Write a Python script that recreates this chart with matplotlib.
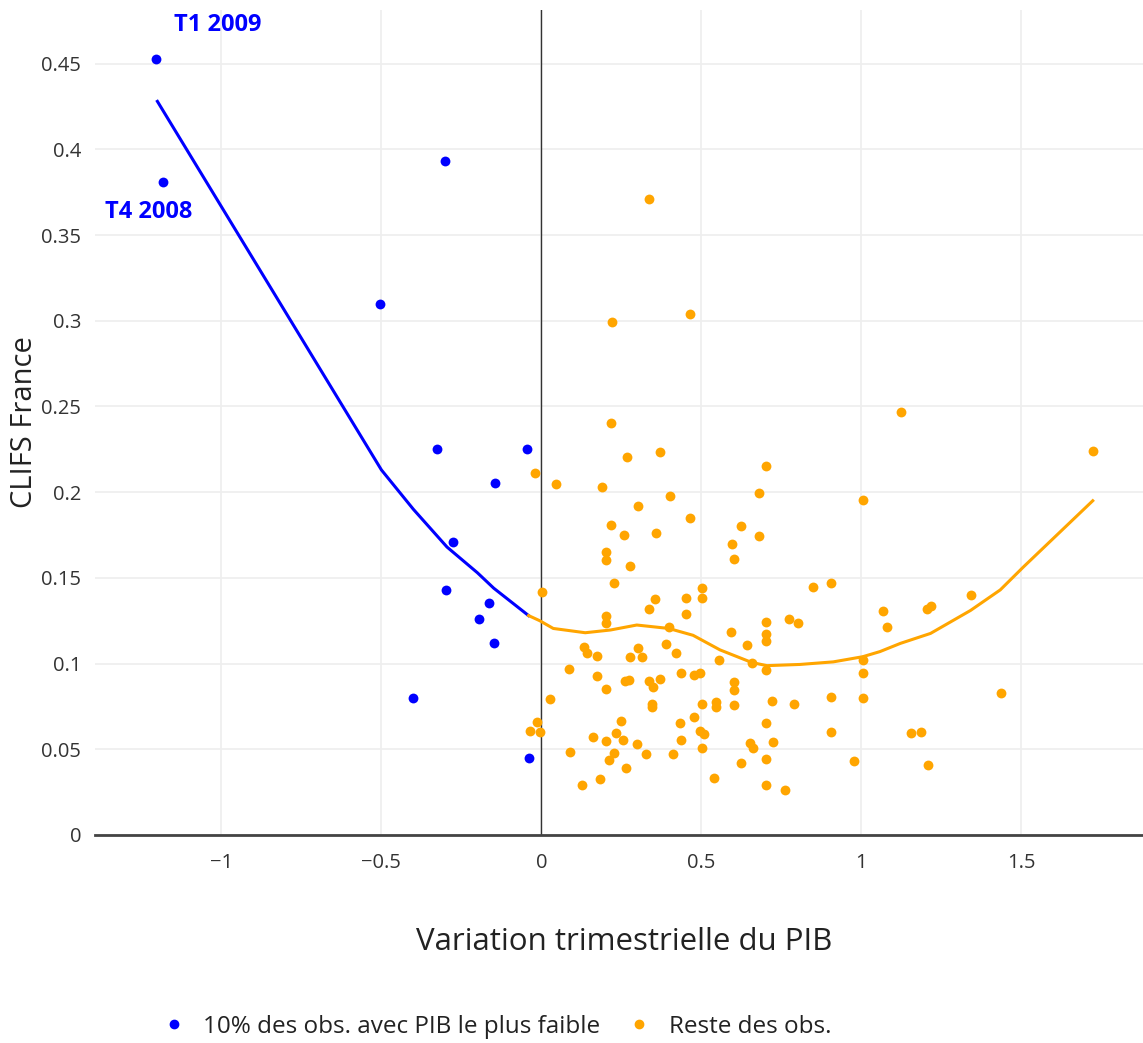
import numpy as np
import matplotlib
matplotlib.use("Agg")
import matplotlib.pyplot as plt
from matplotlib.lines import Line2D

plt.rcParams['font.family'] = ['Open Sans', 'DejaVu Sans']
plt.rcParams['axes.unicode_minus'] = True

# 10% lowest GDP observations (blue)
low_x = [-1.203, -1.181, -0.300, -0.503, -0.325, -0.044, -0.145, -0.277,
         -0.298, -0.163, -0.195, -0.149, -0.400, -0.040]
low_y = [0.453, 0.381, 0.393, 0.310, 0.225, 0.225, 0.2056, 0.1708,
         0.1428, 0.1355, 0.1262, 0.1123, 0.080, 0.045]

# remaining observations (orange)
rest_x = [
    0.218, 0.267, 0.372, -0.021, 0.046, 0.190, 0.402, 0.301, 0.465, 0.216,
    0.259, 0.358, 0.202, 0.202, 0.278, 0.228, 0.001, 0.502, 0.502, 0.356,
    0.452, 0.337,
    0.452, 0.202, 0.202, 0.398, 0.388, 0.421, 0.134, 0.141, 0.174, 0.301,
    0.278, 0.313, 0.085, 0.174, 0.202, 0.262, 0.273, 0.337, 0.348, 0.372,
    0.436, 0.476, 0.495, 0.028, 0.345, 0.345, 0.502, -0.015, -0.036, -0.003,
    0.250, 0.478, 0.434, 0.160, 0.233, 0.202, 0.255, 0.299, 0.435, 0.495,
    0.507, 0.502, 0.088, 0.226, 0.212, 0.326, 0.412, 0.263, 0.182, 0.127,
    0.538,
    0.703, 0.773, 0.803, 0.594, 0.703, 0.703, 0.641, 0.556, 0.658, 0.703,
    1.004, 1.004, 0.603, 0.603, 0.547, 0.547, 0.603, 0.720, 0.788, 0.904,
    1.004, 0.703, 0.904, 0.651, 0.662, 0.725, 0.703, 0.623, 0.976, 0.702,
    0.761,
    0.703, 0.679, 1.004, 0.623, 0.679, 0.596, 0.602, 0.848, 0.904,
    1.124, 1.724, 1.067, 1.080, 1.205, 1.218, 1.341, 1.435, 1.154, 1.185,
    1.209,
    0.337, 0.220, 0.463,
]
rest_y = [
    0.2404, 0.2205, 0.2236, 0.2114, 0.2045, 0.203, 0.198, 0.192, 0.185, 0.1811,
    0.1752, 0.1763, 0.165, 0.1605, 0.1567, 0.1471, 0.1418, 0.1443, 0.1385, 0.1377,
    0.1385, 0.132,
    0.1289, 0.1277, 0.1234, 0.1211, 0.1113, 0.1059, 0.1094, 0.1059, 0.1047, 0.1092,
    0.1041, 0.1036, 0.0971, 0.0927, 0.0853, 0.0898, 0.0904, 0.0898, 0.0866, 0.0913,
    0.0946, 0.0933, 0.0946, 0.0793, 0.0767, 0.0747, 0.0764, 0.066, 0.0607, 0.0601,
    0.0665, 0.069, 0.0651, 0.0574, 0.0593, 0.055, 0.0554, 0.0531, 0.0554, 0.0607,
    0.0587, 0.0509, 0.0484, 0.048, 0.0438, 0.0474, 0.047, 0.0393, 0.0327, 0.0289,
    0.033,
    0.1243, 0.1262, 0.1236, 0.1186, 0.1172, 0.1129, 0.111, 0.102, 0.1006, 0.096,
    0.102, 0.0946, 0.0894, 0.0845, 0.0777, 0.0744, 0.0761, 0.0782, 0.0764, 0.0808,
    0.080, 0.0651, 0.0602, 0.0537, 0.0505, 0.0542, 0.0445, 0.0421, 0.0429, 0.0293,
    0.0262,
    0.215, 0.1997, 0.1954, 0.1803, 0.1745, 0.1699, 0.1613, 0.1448, 0.1473,
    0.247, 0.224, 0.1308, 0.1211, 0.1316, 0.1337, 0.1401, 0.0831, 0.0596, 0.0598,
    0.0408,
    0.3708, 0.2993, 0.3041,
]

# smoothed curves
low_fit_x = [-1.200, -0.500, -0.400, -0.295, -0.200, -0.149, -0.040]
low_fit_y = [0.428, 0.213, 0.190, 0.168, 0.153, 0.144, 0.128]

rest_fit_x = [-0.040, -0.005, 0.037, 0.137, 0.216, 0.298, 0.398, 0.474, 0.558,
              0.658, 0.705, 0.808, 0.912, 1.004, 1.058, 1.122, 1.216, 1.341,
              1.434, 1.507, 1.723]
rest_fit_y = [0.128, 0.125, 0.1205, 0.118, 0.1196, 0.1225, 0.1205, 0.1165, 0.108,
              0.1006, 0.0988, 0.0995, 0.101, 0.104, 0.107, 0.1118, 0.1176, 0.131,
              0.143, 0.1565, 0.195]

x_ticks = [-1, -0.5, 0, 0.5, 1, 1.5]
x_tick_labels = ['\u22121', '\u22120.5', '0', '0.5', '1', '1.5']
y_ticks = [0, 0.05, 0.1, 0.15, 0.2, 0.25, 0.3, 0.35, 0.4, 0.45]
y_tick_labels = ['0', '0.05', '0.1', '0.15', '0.2', '0.25', '0.3', '0.35', '0.4', '0.45']

BLUE = '#0000ff'
ORANGE = '#ffa500'

fig = plt.figure(figsize=(11.43, 10.43), dpi=100)
ax = fig.add_axes([95 / 1143, 1 - 835 / 1043, 1 - 95 / 1143, 825 / 1043])

ax.set_xlim(-1.395, 1.88)
ax.set_ylim(0, 0.4813)

for s in ax.spines.values():
    s.set_visible(False)
ax.set_xticks(x_ticks)
ax.set_xticklabels(x_tick_labels)
ax.set_yticks(y_ticks)
ax.set_yticklabels(y_tick_labels)
ax.tick_params(length=0, labelsize=14.5, colors='#333333')
ax.tick_params(axis='x', pad=13)
ax.tick_params(axis='y', pad=10)
ax.grid(True, color='#eeeeee', lw=1.2)
ax.set_axisbelow(True)

ax.axvline(0, color='#333333', lw=1.0, zorder=1)
ax.axhline(0, color='#444444', lw=2.0, zorder=1, clip_on=False)

ax.scatter(low_x, low_y, s=50, color=BLUE, zorder=3, linewidths=0)
ax.scatter(rest_x, rest_y, s=50, color=ORANGE, zorder=3, linewidths=0)
ax.plot(low_fit_x, low_fit_y, color=BLUE, lw=2.2, zorder=4)
ax.plot(rest_fit_x, rest_fit_y, color=ORANGE, lw=2.2, zorder=4)

ax.annotate('T1 2009', (low_x[0], low_y[0]), xytext=(44, 24), textcoords='offset points',
            ha='center', va='center', color=BLUE, fontsize=17, fontweight='bold')
ax.annotate('T4 2008', (low_x[1], low_y[1]), xytext=(-11, -22), textcoords='offset points',
            ha='center', va='center', color=BLUE, fontsize=17, fontweight='bold')

ax.set_xlabel('Variation trimestrielle du PIB', fontsize=22.5, color='#222222')
ax.set_ylabel('CLIFS France', fontsize=21, color='#222222')
ax.xaxis.set_label_coords(0.505, -0.13)
ax.xaxis.label.set_va('center')
ax.yaxis.set_label_coords(-0.067, 0.5)
ax.yaxis.label.set_va('center')

handles = [
    Line2D([], [], ls='none', marker='o', ms=6, color=BLUE, label='10% des obs. avec PIB le plus faible'),
    Line2D([], [], ls='none', marker='o', ms=6, color=ORANGE, label='Reste des obs.'),
]
fig.legend(handles=handles, loc='center left', bbox_to_anchor=(128 / 1143, 1 - 1027 / 1043),
           ncol=2, frameon=False, fontsize=17.5, handletextpad=0.2, columnspacing=0.6,
           labelcolor='#222222')

fig.savefig('out.png', dpi=100)
